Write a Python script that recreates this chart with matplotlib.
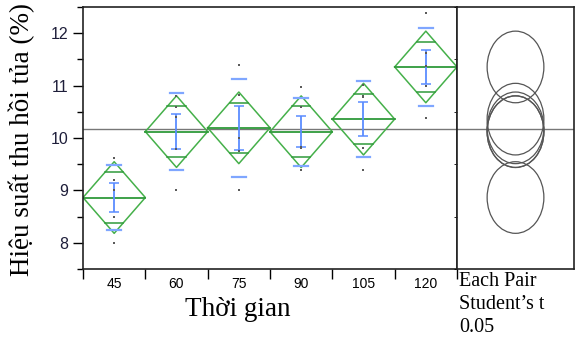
import numpy as np
import matplotlib
matplotlib.use("Agg")
import matplotlib.pyplot as plt
from matplotlib.patches import Ellipse

# thời gian (phút) và hiệu suất thu hồi tủa (%) của từng lần lặp
groups = ["45", "60", "75", "90", "105", "120"]
obs_45 = [9.62, 9.20, 9.00, 8.50, 8.00]
obs_60 = [10.81, 10.60, 10.41, 9.79, 9.00]
obs_75 = [11.39, 10.82, 10.00, 9.76, 9.00]
obs_90 = [10.98, 10.60, 9.82, 9.81, 9.39]
obs_105 = [11.01, 10.81, 10.79, 9.81, 9.38]
obs_120 = [12.38, 11.63, 11.38, 11.00, 10.39]
t_crit = 2.064  # Student's t, alpha = 0.05, df = 24

data = [obs_45, obs_60, obs_75, obs_90, obs_105, obs_120]
n = len(obs_45)
means = np.array([np.mean(d) for d in data])
sds = np.array([np.std(d, ddof=1) for d in data])
se = sds / np.sqrt(n)
pooled = np.sqrt(np.mean(sds ** 2))
ci = t_crit * pooled / np.sqrt(n)
grand = np.mean(np.concatenate(data))

green = "#45b04a"
dgreen = "#2f9a3a"
blue = "#5a8cff"
lblue = "#7fa6ff"

fig = plt.figure(figsize=(5.81, 3.45), dpi=100)
ax = fig.add_axes([83 / 581, 76 / 345, 374 / 581, 262 / 345])
axc = fig.add_axes([457 / 581, 76 / 345, 117 / 581, 262 / 345], sharey=ax)

x = np.arange(len(groups))
for i, d in enumerate(data):
    m = means[i]
    # means diamond
    ax.plot([i - 0.5, i, i + 0.5, i, i - 0.5], [m, m + ci, m, m - ci, m],
            color=green, lw=1.1, zorder=2)
    ax.plot([i - 0.5, i + 0.5], [m, m], color=dgreen, lw=1.3, zorder=2)
    h = ci / np.sqrt(2)
    w = 0.5 * (1 - 1 / np.sqrt(2))
    for s in (1, -1):
        ax.plot([i - w, i + w], [m + s * h] * 2, color=dgreen, lw=1.1, zorder=2)
    # std dev lines
    for s in (1, -1):
        ax.plot([i - 0.11, i + 0.11], [m + s * sds[i]] * 2, color=lblue, lw=1.6, zorder=3)
    # std error bars
    ax.errorbar(i, m, yerr=se[i], color=blue, lw=1.3, capsize=3.5,
                capthick=1.1, zorder=3)
    ax.scatter([i] * len(d), d, s=4.5, marker="s", color="#5a5a5a", zorder=4, linewidths=0)

ax.axhline(grand, color="#777777", lw=1, zorder=1)
axc.axhline(grand, color="#777777", lw=1, zorder=1)

# comparison circles
for m in means:
    axc.add_patch(Ellipse((0.5, m), 0.485, 2 * ci, fill=False,
                          edgecolor="#555555", lw=0.9))
axc.set_xlim(0, 1)

ax.set_xlim(-0.5, len(groups) - 0.5)
ax.set_ylim(7.5, 12.5)
ax.set_yticks([8, 9, 10, 11, 12])
ax.set_yticks(np.arange(7.5, 12.6, 0.5), minor=True)
ax.set_xticks(np.arange(-0.5, len(groups), 1.0))
ax.set_xticklabels([""] * (len(groups) + 1))
ax.set_xticks(x, minor=True)
ax.set_xticklabels(groups, minor=True)
ax.tick_params(axis="x", which="major", length=7, width=1, color="black")
ax.tick_params(axis="x", which="minor", length=0, pad=6)
ax.tick_params(axis="y", which="major", length=7, width=1)
ax.tick_params(axis="y", which="minor", length=4, width=1)
ax.tick_params(labelsize=11.5, labelcolor="#1e1e3a")
for lab in ax.get_xticklabels(minor=True) + ax.get_yticklabels():
    lab.set_family(["Liberation Sans", "DejaVu Sans"])

axc.tick_params(left=False, labelleft=False, bottom=False, labelbottom=False)

for a in (ax, axc):
    for sp in a.spines.values():
        sp.set_linewidth(1.2)
        sp.set_color("#222222")

serif = ["Liberation Serif", "DejaVu Serif"]
fig.text(22 / 581, 1 - 140 / 345, "Hiệu suất thu hồi tủa (%)", rotation=90,
         ha="center", va="center", fontsize=19.5, family=serif)
fig.text(238 / 581, 1 - 310 / 345, "Thời gian", ha="center", va="center",
         fontsize=19.5, family=serif)
fig.text(459 / 581, 1 - 272 / 345, "Each Pair\nStudent’s t\n0.05", ha="left",
         va="top", fontsize=14.5, family=serif, linespacing=1.3)

fig.savefig("out.png", dpi=100)
